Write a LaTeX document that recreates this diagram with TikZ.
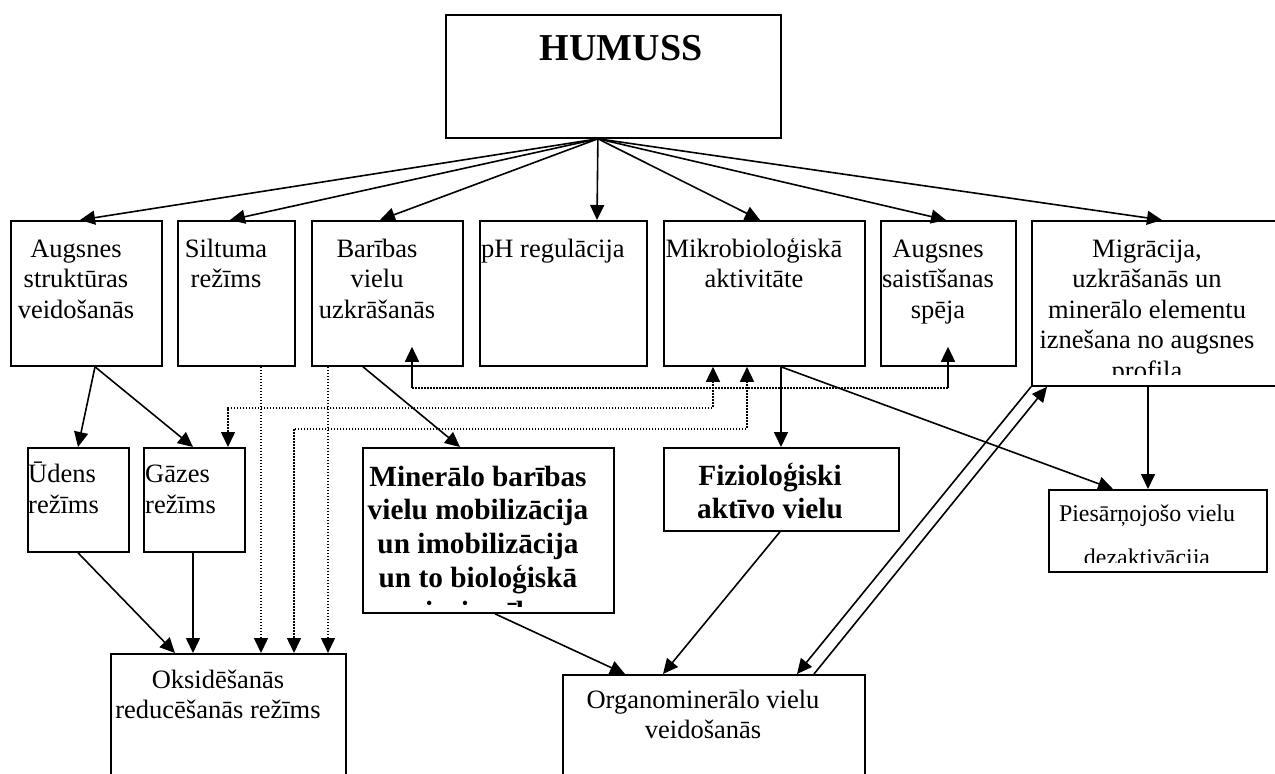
\documentclass[tikz,border=0pt]{standalone}
\usepackage{fontspec}
\setmainfont{Liberation Serif}
\usetikzlibrary{arrows.meta}
\newcommand\firstln{\rule{0pt}{25pt}}
\begin{document}
\begin{tikzpicture}[x=1pt,y=-1pt,
  box/.style={draw, line width=1.8pt, inner sep=0pt, anchor=north west},
  txt/.style={inner sep=0pt, align=center, font=\fontsize{26.5}{30.5}\selectfont},
  txtl/.style={inner sep=0pt, align=left, font=\fontsize{26.5}{31}\selectfont},
  btxt/.style={inner sep=0pt, align=center, font=\fontsize{29.3}{33.7}\selectfont\bfseries},
  conn/.style={line width=1.6pt, -{Triangle[length=15pt,width=14pt]}},
  dotc/.style={line width=1.5pt, dash pattern=on 1.5pt off 1.5pt},
  dotb/.style={dotc, {Triangle[length=15pt,width=14pt]}-{Triangle[length=15pt,width=14pt]}},
  dota/.style={dotc, -{Triangle[length=15pt,width=14pt]}},
]
\clip (0,0) rectangle (1275,774);
\fill[white] (0,0) rectangle (1275,774);

% boxes
\node[box, minimum width=335pt, minimum height=123pt] (hum) at (445,14) {};
\node[box, minimum width=151pt, minimum height=145pt] (b1) at (10,220) {};
\node[box, minimum width=117pt, minimum height=145pt] (b2) at (177,220) {};
\node[box, minimum width=151pt, minimum height=145pt] (b3) at (311,220) {};
\node[box, minimum width=167pt, minimum height=145pt] (b4) at (479,220) {};
\node[box, minimum width=201pt, minimum height=145pt] (b5) at (663,220) {};
\node[box, minimum width=135pt, minimum height=145pt] (b6) at (880,220) {};
\node[box, minimum width=251pt, minimum height=165pt] (b7) at (1031,220) {};
\node[box, minimum width=101pt, minimum height=104pt] (ud) at (27,447) {};
\node[box, minimum width=101pt, minimum height=104pt] (gz) at (143,447) {};
\node[box, minimum width=251pt, minimum height=165pt] (mn) at (362,447) {};
\node[box, minimum width=235pt, minimum height=83pt] (fz) at (663,447) {};
\node[box, minimum width=218pt, minimum height=82pt] (ps) at (1048,489) {};
\node[box, minimum width=235pt, minimum height=140pt] (ok) at (110,653) {};
\node[box, minimum width=302pt, minimum height=120pt] (og) at (562,674) {};

% texts
\node[inner sep=0pt, anchor=base, font=\fontsize{38}{44}\selectfont\bfseries] (thum) at (621,60) {HUMUSS};
\node[txt, anchor=north] (t1) at (76,232) {\firstln Augsnes\\struktūras\\veidošanās};
\node[txt, anchor=north] (t2) at (226,232) {\firstln Siltuma\\režīms};
\node[txt, anchor=north] (t3) at (377,232) {\firstln Barības\\vielu\\uzkrāšanās};
\node[txt, anchor=base west] (t4) at (481,257) {pH regulācija};
\node[txt, anchor=north] (t5) at (754,232) {\firstln Mikrobioloģiskā\\aktivitāte};
\node[txt, anchor=north] (t6) at (938,232) {\firstln Augsnes\\saistīšanas\\spēja};
\begin{scope}
\clip (1033,222) rectangle (1280,374);
\node[txt, anchor=north] (t7) at (1147,232) {\firstln Migrācija,\\uzkrāšanās un\\minerālo elementu\\iznešana no augsnes\\profila};
\end{scope}
\node[txtl, anchor=north west] (tud) at (28,457) {\firstln Ūdens\\režīms};
\node[txtl, anchor=north west] (tgz) at (145,457) {\firstln Gāzes\\režīms};
\begin{scope}
\clip (364,449) rectangle (611,606);
\node[btxt, anchor=north] (tmn) at (478,461) {\firstln Minerālo barības\\vielu mobilizācija\\un imobilizācija\\un to bioloģiskā\\pieejamība};
\end{scope}
\node[btxt, anchor=north] (tfz) at (770,460) {\firstln Fizioloģiski\\aktīvo vielu};
\begin{scope}
\clip (1050,491) rectangle (1264,562);
\node[inner sep=0pt, align=center, font=\fontsize{23.9}{44}\selectfont, anchor=north] (tps) at (1147,496) {\firstln Piesārņojošo vielu\\dezaktivācija};
\end{scope}
\node[txt, anchor=north] (tok) at (218,663) {\firstln Oksidēšanās\\reducēšanās režīms};
\node[txt, anchor=north] (tog) at (703,683) {\firstln Organominerālo vielu\\veidošanās};

% connectors from HUMUSS
\coordinate (hs) at ([xshift=-15.5pt]hum.south);
\draw[conn] (hs) -- ([xshift=70pt]b1.north west);
\draw[conn] (hs) -- ([xshift=53pt]b2.north west);
\draw[conn] (hs) -- ([xshift=69pt]b3.north west);
\draw[conn] (hs) -- ([xshift=118pt]b4.north west);
\draw[conn] (hs) -- ([xshift=97pt]b5.north west);
\draw[conn] (hs) -- ([xshift=66pt]b6.north west);
\draw[conn] (hs) -- ([xshift=131pt]b7.north west);

% solid connectors
\draw[conn] ([xshift=85pt]b1.south west) -- ([xshift=51pt]ud.north west);
\draw[conn] ([xshift=85pt]b1.south west) -- ([xshift=50pt]gz.north west);
\draw[conn] ([xshift=51pt]ud.south west) -- ([xshift=65pt]ok.north west);
\draw[conn] ([xshift=50pt]gz.south west) -- ([xshift=83pt]ok.north west);
\draw[conn] ([xshift=52pt]b3.south west) -- ([xshift=98pt]mn.north west);
\draw[conn] ([xshift=118pt]b5.south west) -- ([xshift=118pt]fz.north west);
\draw[conn] ([xshift=118pt]b5.south west) -- ([xshift=65pt]ps.north west);
\draw[conn] ([xshift=117pt]b7.south west) -- ([xshift=100pt]ps.north west);
\draw[conn] ([xshift=133pt]mn.south west) -- ([xshift=63pt]og.north west);
\draw[conn] ([xshift=117pt]fz.south west) -- ([xshift=101pt]og.north west);
\draw[conn] (b7.south west) -- ([xshift=235pt]og.north west);
\draw[conn] ([xshift=252pt]og.north west) -- ([xshift=16pt]b7.south west);

% dotted connectors
\draw[dota] ([xshift=84pt]b2.south west) -- ([xshift=151pt]ok.north west);
\draw[dota] ([xshift=17pt]b3.south west) -- ([xshift=218pt]ok.north west);
\draw[dotb] ([xshift=50pt]b5.south west) -- ++(0,41) -| ([xshift=85pt]gz.north west);
\draw[dotb] ([xshift=84pt]b5.south west) -- ++(0,62) -| ([xshift=184pt]ok.north west);
\coordinate (jl) at ([xshift=101pt,yshift=-21pt]b3.south west);
\coordinate (jr) at ([xshift=68pt,yshift=-21pt]b6.south west);
\draw[dotc] (jl) -- (jr);
\draw[conn] (jl) -- ([xshift=101pt,yshift=20pt]b3.south west);
\draw[conn] (jr) -- ([xshift=68pt,yshift=20pt]b6.south west);
\end{tikzpicture}
\end{document}
